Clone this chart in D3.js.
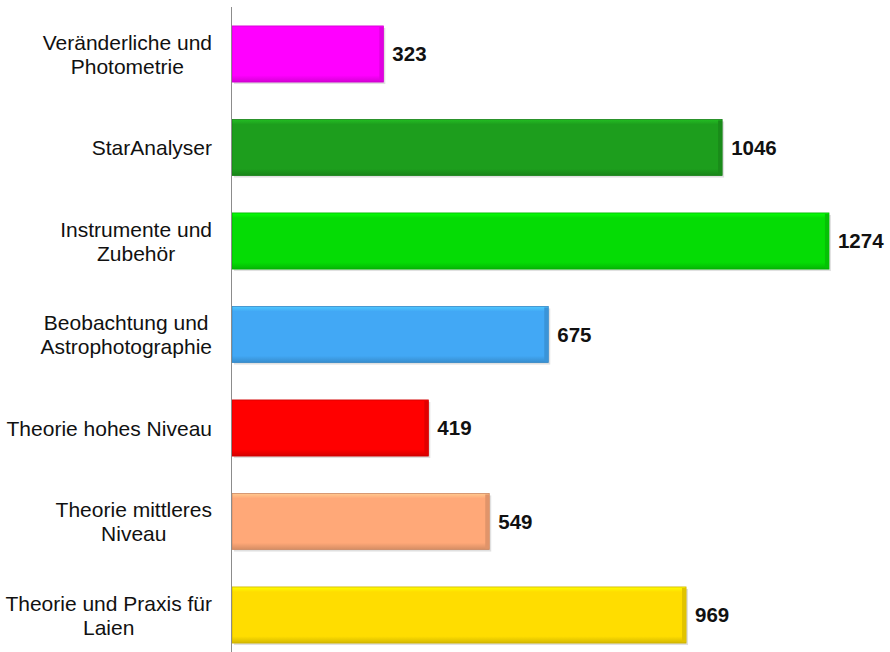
<!DOCTYPE html>
<html>
<head>
<meta charset="utf-8">
<script src="https://cdn.jsdelivr.net/npm/d3@7.9.0/dist/d3.min.js"></script>
<style>
  body { margin: 0; background: #fff; }
  svg { display: block; font-family: "Liberation Sans", Arial, sans-serif; }
</style>
</head>
<body>
<svg width="890" height="652"></svg>
<script>
// chart data
const categories = [
  ["Veränderliche und", "Photometrie"],
  ["StarAnalyser"],
  ["Instrumente und", "Zubehör"],
  ["Beobachtung und", "Astrophotographie"],
  ["Theorie hohes Niveau"],
  ["Theorie mittleres", "Niveau"],
  ["Theorie und Praxis für", "Laien"]
];
const values = [323, 1046, 1274, 675, 419, 549, 969];
const colors = ["#ff00ff", "#1d9e1d", "#05dc05", "#42a8f5", "#ff0000", "#ffa878", "#ffdd00"];

const svg = d3.select("svg");
const keys = d3.range(values.length);

const x = d3.scaleLinear().domain([0, 1400]).range([232, 888]);
const y = d3.scaleBand().domain(keys).range([7.25, 661.75])
  .paddingInner(0.4).paddingOuter(0.2);

// gradients for the bevelled bars
const defs = svg.append("defs");
colors.forEach((c, i) => {
  const g = defs.append("linearGradient")
    .attr("id", "grad" + i)
    .attr("x1", 0).attr("y1", 0).attr("x2", 0).attr("y2", 1);
  g.append("stop").attr("offset", "0%").attr("stop-color", d3.color(c).brighter(0.5));
  g.append("stop").attr("offset", "9%").attr("stop-color", c);
  g.append("stop").attr("offset", "88%").attr("stop-color", c);
  g.append("stop").attr("offset", "100%").attr("stop-color", d3.color(c).darker(0.5));
});

const bars = svg.append("g");
bars.selectAll("rect.shadow")
  .data(keys)
  .join("rect")
  .attr("class", "shadow")
  .attr("x", x(0) + 2)
  .attr("y", i => y(i) + 2)
  .attr("width", i => x(values[i]) - x(0))
  .attr("height", y.bandwidth())
  .attr("fill", "#000")
  .attr("opacity", 0.12);

bars.selectAll("rect.bar")
  .data(keys)
  .join("rect")
  .attr("class", "bar")
  .attr("x", x(0))
  .attr("y", i => y(i))
  .attr("width", i => x(values[i]) - x(0))
  .attr("height", y.bandwidth())
  .attr("fill", i => `url(#grad${i})`)
  .attr("stroke", i => d3.color(colors[i]).darker(0.6))
  .attr("stroke-width", 0.8);

// right bevel edge
bars.selectAll("rect.edge")
  .data(keys)
  .join("rect")
  .attr("class", "edge")
  .attr("x", i => x(values[i]) - 4)
  .attr("y", i => y(i) + 1)
  .attr("width", 4)
  .attr("height", y.bandwidth() - 2)
  .attr("fill", i => d3.color(colors[i]).darker(0.35));

// value labels
svg.append("g").selectAll("text")
  .data(keys)
  .join("text")
  .attr("x", i => x(values[i]) + 9)
  .attr("y", i => y(i) + y.bandwidth() / 2)
  .attr("dy", "0.36em")
  .attr("font-size", 20.5)
  .attr("font-weight", "bold")
  .attr("fill", "#111")
  .text(i => values[i]);

// category axis line
svg.append("line")
  .attr("x1", 231.5).attr("x2", 231.5)
  .attr("y1", 7).attr("y2", 652)
  .attr("stroke", "#8c8c8c")
  .attr("stroke-width", 1);

// category labels: block right aligned, lines centred within it
const labelRight = 212;
const lineH = 24;
const labels = svg.append("g").selectAll("g")
  .data(keys)
  .join("g");

labels.each(function (i) {
  const g = d3.select(this);
  const lines = categories[i];
  const cy = y(i) + y.bandwidth() / 2;
  const ts = lines.map((ln, k) => g.append("text")
    .attr("font-size", 21)
    .attr("fill", "#111")
    .attr("text-anchor", "middle")
    .attr("y", cy + (k - (lines.length - 1) / 2) * lineH)
    .attr("dy", "0.36em")
    .text(ln));
  const w = d3.max(ts, t => t.node().getComputedTextLength());
  ts.forEach(t => t.attr("x", labelRight - w / 2));
});
</script>
</body>
</html>
